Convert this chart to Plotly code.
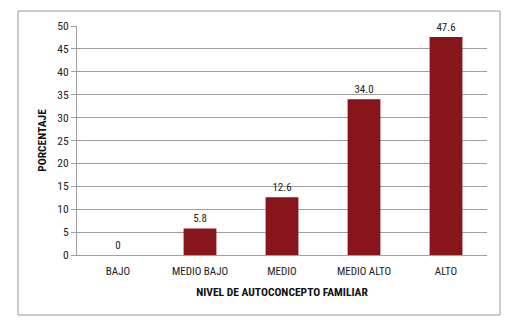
import plotly.graph_objects as go

categories = ["BAJO", "MEDIO BAJO", "MEDIO", "MEDIO ALTO", "ALTO"]
values = [0, 5.8, 12.6, 34.0, 47.6]
labels = ["0", "5.8", "12.6", "34.0", "47.6"]
y_ticks = [0, 5, 10, 15, 20, 25, 30, 35, 40, 45, 50]

FONT = "Liberation Sans Narrow, Roboto Condensed, Arial Narrow, sans-serif"

fig = go.Figure(go.Bar(
    x=categories, y=values, text=labels, textposition="outside",
    marker=dict(color="#88151B", line=dict(width=0)),
    textfont=dict(family=FONT, size=11, color="#222"),
    cliponaxis=False,
))

# page body has an 8px default margin; figure sized to fit the window
OFF = 8
W, H = 520 - OFF, 324 - OFF
L, R, T, B = 77 - OFF, 33, 26 - OFF, 69
pw, ph = W - L - R, H - T - B

def px_x(p):
    return (p - OFF - L) / pw

def px_y(p):
    return (H - B - (p - OFF)) / ph

fig.add_shape(type="rect", xref="paper", yref="paper",
              x0=px_x(18), x1=px_x(500), y0=px_y(315), y1=px_y(11),
              line=dict(color="#9a9a9a", width=1), layer="below")

fig.update_layout(
    width=W, height=H,
    margin=dict(l=L, r=R, t=T, b=B, autoexpand=False),
    paper_bgcolor="white", plot_bgcolor="white",
    bargap=0.6, showlegend=False,
    font=dict(family=FONT, size=11, color="#222"),
    xaxis=dict(
        showgrid=False, showline=True, linecolor="#a0a0a0", linewidth=1,
        ticks="", tickfont=dict(family=FONT, size=11, color="#222"),
        ticklabelstandoff=6,
        automargin=False,
        title=dict(text="<b>NIVEL DE AUTOCONCEPTO FAMILIAR</b>", standoff=10,
                   font=dict(family=FONT, size=11.5, color="#111")),
    ),
    yaxis=dict(
        range=[0, 50], tickvals=y_ticks, showgrid=True, gridcolor="#a0a0a0",
        gridwidth=1, showline=True, linecolor="#a0a0a0", linewidth=1,
        ticks="outside", ticklen=5, tickcolor="#a0a0a0",
        tickfont=dict(family=FONT, size=11.5, color="#222"),
        zeroline=False, automargin=False,
        title=dict(text="<b>PORCENTAJE</b>", standoff=8,
                   font=dict(family=FONT, size=11.5, color="#111")),
    ),
)

fig.write_html("out.html")
